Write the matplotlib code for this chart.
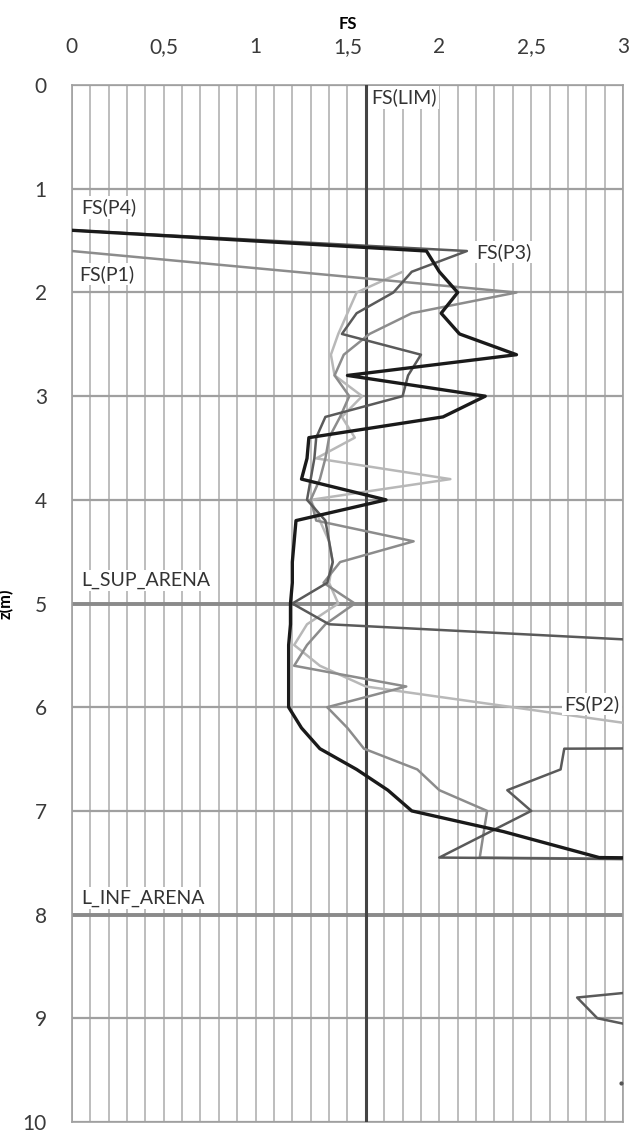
import numpy as np
import matplotlib
matplotlib.use("Agg")
import matplotlib.pyplot as plt
from matplotlib.ticker import MultipleLocator, FuncFormatter

plt.rcParams['font.family'] = ['Lato', 'DejaVu Sans']

fs_lim = 1.6

# FS(P4) - black
z_p4 = [1.4, 1.6, 1.8, 2.0, 2.2, 2.4, 2.6, 2.8, 3.0, 3.2, 3.4, 3.6, 3.8, 4.0, 4.2, 4.4, 4.6,
        4.8, 5.0, 5.2, 5.4, 5.6, 5.8, 6.0, 6.2, 6.4, 6.6, 6.8, 7.0, 7.2, 7.45, 7.6]
fs_p4 = [0.0, 1.93, 2.0, 2.10, 2.01, 2.11, 2.42, 1.50, 2.25, 2.02, 1.29, 1.28, 1.25, 1.71, 1.22,
         1.21, 1.20, 1.20, 1.19, 1.19, 1.18, 1.18, 1.18, 1.18, 1.25, 1.35, 1.55, 1.72, 1.85, 2.35,
         2.87, 12.0]

# FS(P1) - mid grey
z_p1 = [1.6, 2.0, 2.2, 2.4, 2.6, 2.8, 3.0, 3.2, 3.4, 3.6, 3.8, 4.0, 4.2, 4.4, 4.6, 4.8, 5.0,
        5.2, 5.4, 5.6, 5.8, 6.0, 6.2, 6.4, 6.6, 6.8, 7.0, 7.45, 7.6]
fs_p1 = [0.0, 2.42, 1.85, 1.62, 1.48, 1.43, 1.51, 1.46, 1.40, 1.38, 1.35, 1.30, 1.33, 1.86, 1.46,
         1.37, 1.54, 1.38, 1.28, 1.21, 1.82, 1.39, 1.50, 1.59, 1.88, 2.00, 2.26, 2.22, 12.0]

# FS(P3) - dark grey
z_p3 = [1.4, 1.6, 1.8, 2.0, 2.2, 2.4, 2.6, 2.8, 3.0, 3.2, 3.4, 3.6, 3.8, 4.0, 4.2, 4.4, 4.6,
        4.8, 5.0, 5.2, 5.4, 6.2, 6.4, 6.6, 6.8, 7.0, 7.45, 7.6, 8.6, 8.8, 9.0, 9.2]
fs_p3 = [0.0, 2.15, 1.85, 1.75, 1.55, 1.47, 1.90, 1.83, 1.80, 1.38, 1.33, 1.32, 1.30, 1.28, 1.38,
         1.40, 1.42, 1.39, 1.20, 1.40, 3.6, 30.0, 2.68, 2.66, 2.37, 2.50, 2.00, 12.0, 3.9, 2.75,
         2.86, 3.4]

# FS(P2) - light grey
z_p2 = [1.8, 2.0, 2.2, 2.4, 2.6, 2.8, 3.0, 3.2, 3.4, 3.6, 3.8, 4.0, 4.2, 4.4, 4.6, 4.8, 5.0,
        5.2, 5.4, 5.6, 5.8, 6.2]
fs_p2 = [1.80, 1.55, 1.50, 1.45, 1.41, 1.43, 1.58, 1.47, 1.54, 1.33, 2.06, 1.30, 1.35, 1.40,
         1.42, 1.40, 1.45, 1.28, 1.21, 1.35, 1.60, 3.2]

layer_top = 5.0
layer_bot = 8.0

fig = plt.figure(figsize=(6.3, 11.35), dpi=100)
ax = fig.add_axes([0.114, 0.0115, 0.875, 0.9135])

ax.set_xlim(0, 3)
ax.set_ylim(10, 0)
ax.xaxis.tick_top()
ax.xaxis.set_label_position('top')
ax.xaxis.set_major_locator(MultipleLocator(0.5))
ax.xaxis.set_minor_locator(MultipleLocator(0.1))
ax.yaxis.set_major_locator(MultipleLocator(1))
ax.xaxis.set_major_formatter(FuncFormatter(lambda v, p: f"{v:g}".replace('.', ',')))
ax.tick_params(axis='both', which='both', length=0, labelsize=15, colors='#3a3a3a')
ax.tick_params(axis='x', pad=20)
ax.tick_params(axis='y', pad=18)
ax.grid(True, axis='x', which='both', color='#ababab', lw=1.1)
ax.grid(True, axis='y', which='major', color='#a0a0a0', lw=1.6)
for s in ax.spines.values():
    s.set_color('#a0a0a0')
    s.set_linewidth(1.2)

ax.set_xlabel('FS', fontsize=12, fontweight='bold', labelpad=6)
ax.set_ylabel('z(m)', fontsize=12, fontweight='bold', labelpad=6)

ax.axhline(layer_top, color='#8a8a8a', lw=2.8, zorder=2)
ax.axhline(layer_bot, color='#8a8a8a', lw=2.8, zorder=2)
ax.axvline(fs_lim, color='#444444', lw=2.2, zorder=3)

ax.plot(fs_p2, z_p2, color='#b8b8b8', lw=1.8, zorder=4)
ax.plot(fs_p1, z_p1, color='#8c8c8c', lw=1.8, zorder=5)
ax.plot(fs_p3, z_p3, color='#5a5a5a', lw=1.8, zorder=6)
ax.plot(fs_p4, z_p4, color='#1a1a1a', lw=2.4, zorder=7)
ax.plot([2.99], [9.62], 'o', color='#555555', ms=2, zorder=7)

box = dict(facecolor='white', edgecolor='none', pad=1.5)
kw = dict(fontsize=14, color='#333333', bbox=box, zorder=8, va='center')
ax.text(1.63, 0.12, 'FS(LIM)', ha='left', **kw)
ax.text(0.05, 1.18, 'FS(P4)', ha='left', **kw)
ax.text(0.04, 1.82, 'FS(P1)', ha='left', **kw)
ax.text(2.2, 1.61, 'FS(P3)', ha='left', **kw)
ax.text(2.98, 5.97, 'FS(P2)', ha='right', **kw)
ax.text(0.05, 4.78, 'L_SUP_ARENA', ha='left', **kw)
ax.text(0.05, 7.84, 'L_INF_ARENA', ha='left', **kw)

fig.savefig('out.png', dpi=100)
